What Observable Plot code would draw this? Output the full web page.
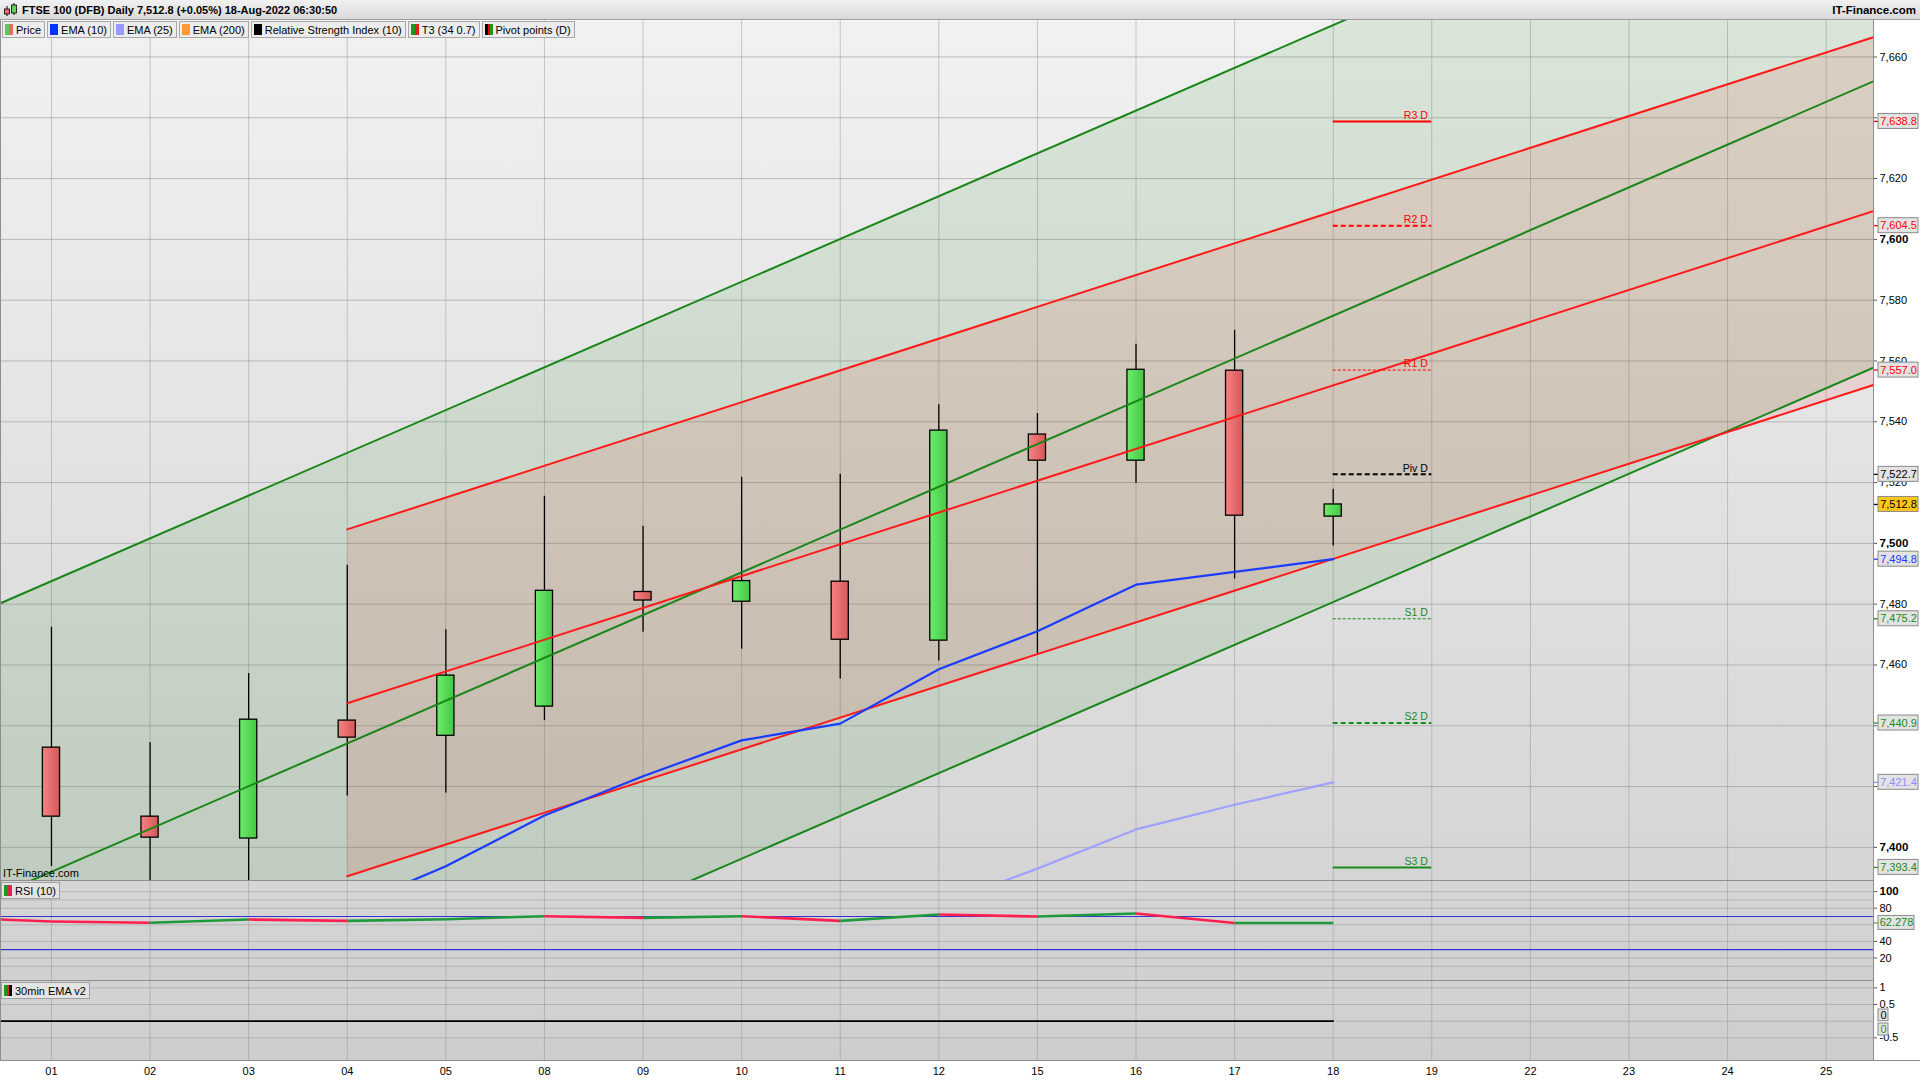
<!DOCTYPE html>
<html>
<head>
<meta charset="utf-8">
<script src="https://cdn.jsdelivr.net/npm/d3@7"></script>
<script src="https://cdn.jsdelivr.net/npm/@observablehq/plot@0.6"></script>
<style>
html,body{margin:0;padding:0;}
body{width:1920px;height:1080px;position:relative;overflow:hidden;background:#fff;font-family:"Liberation Sans",Arial,Helvetica,sans-serif;color:#000;}
.abs{position:absolute;}
#header{left:0;top:0;width:1920px;height:19px;background:linear-gradient(#f1f1f1,#dadada);border-bottom:1px solid #9c9c9c;z-index:5;}
#title{left:22px;top:0;line-height:20px;font-size:11px;font-weight:bold;}
#brand{right:4px;top:0;line-height:20px;font-size:11.5px;font-weight:bold;}
#hicon{left:3px;top:3px;width:16px;height:14px;}
#legend{left:2px;top:21px;display:flex;gap:2px;z-index:5;}
.item{display:flex;align-items:center;height:15px;border:1px solid #a8a8a8;background:#ececec;font-size:11px;padding:0 3px 0 2px;white-space:nowrap;}
.icon{display:inline-block;width:8px;height:11px;margin-right:3px;}
.panelLabel{display:flex;align-items:center;height:15px;border:1px solid #a0a0a0;background:#e4e4e4;font-size:11px;padding:0 3px 0 2px;z-index:5;}
.hline{height:1px;background:#8e8e8e;z-index:4;}
.vline{width:1px;background:#8e8e8e;z-index:4;}
#mark{left:3px;top:867px;font-size:11px;z-index:5;}
</style>
</head>
<body>
<div id="header" class="abs">
  <svg id="hicon" class="abs" viewBox="0 0 16 14">
    <line x1="4" y1="3" x2="4" y2="13" stroke="#000" stroke-width="1"/>
    <rect x="1.5" y="6" width="5" height="5" fill="#e86a6a" stroke="#000" stroke-width="0.8"/>
    <line x1="11" y1="0" x2="11" y2="12" stroke="#000" stroke-width="1"/>
    <rect x="8.5" y="2" width="5" height="8" fill="#5ad65a" stroke="#000" stroke-width="0.8"/>
  </svg>
  <div id="title" class="abs">FTSE 100 (DFB) Daily 7,512.8 (+0.05%) 18-Aug-2022 06:30:50</div>
  <div id="brand" class="abs">IT-Finance.com</div>
</div>
<div id="legend" class="abs">
  <div class="item"><span class="icon" style="background:linear-gradient(90deg,#5cc85c 50%,#e56b6b 50%)"></span>Price</div>
  <div class="item"><span class="icon" style="background:#0033ff"></span>EMA (10)</div>
  <div class="item"><span class="icon" style="background:#9999ff"></span>EMA (25)</div>
  <div class="item"><span class="icon" style="background:#ff9933"></span>EMA (200)</div>
  <div class="item"><span class="icon" style="background:#000"></span>Relative Strength Index (10)</div>
  <div class="item"><span class="icon" style="background:linear-gradient(90deg,#1a9a1a 50%,#e02020 50%)"></span>T3 (34 0.7)</div>
  <div class="item"><span class="icon" style="background:linear-gradient(90deg,#000 33%,#e00 33%,#e00 66%,#1a9a1a 66%)"></span>Pivot points (D)</div>
</div>
<div id="main" class="abs" style="left:0;top:20px;"></div>
<div id="rsi" class="abs" style="left:0;top:880px;"></div>
<div id="bot" class="abs" style="left:0;top:980px;"></div>
<div id="mark" class="abs">IT-Finance.com</div>
<div class="abs panelLabel" style="left:1px;top:882px;"><span class="icon" style="background:linear-gradient(90deg,#1a9a1a 50%,#e02050 50%)"></span>RSI (10)</div>
<div class="abs panelLabel" style="left:1px;top:982px;"><span class="icon" style="background:linear-gradient(90deg,#1a9a1a 33%,#e02020 33%,#e02020 66%,#000 66%)"></span>30min EMA v2</div>
<div class="abs hline" style="left:0;top:880px;width:1873px;"></div>
<div class="abs hline" style="left:0;top:980px;width:1873px;"></div>
<div class="abs hline" style="left:0;top:1060px;width:1920px;"></div>
<div class="abs vline" style="left:1873px;top:20px;height:1040px;"></div>
<div class="abs vline" style="left:0;top:20px;height:1040px;"></div>
<script>
// ---------- data ----------
const days   = ["01","02","03","04","05","08","09","10","11","12","15","16","17","18","19","22","23","24","25"];
const openP  = [7432.8, 7410.1, 7402.9, 7441.7, 7436.7, 7446.3, 7484.0, 7480.8, 7487.4, 7468.0, 7535.8, 7527.2, 7556.8, 7508.8];
const highP  = [7472.4, 7434.5, 7457.2, 7492.8, 7471.6, 7515.5, 7505.6, 7521.7, 7522.7, 7545.6, 7542.7, 7565.5, 7570.1, 7517.8];
const lowP   = [7393.7, 7380.0, 7380.0, 7416.9, 7417.9, 7441.7, 7470.8, 7465.2, 7455.4, 7461.3, 7463.7, 7519.8, 7488.3, 7499.1];
const closeP = [7410.1, 7403.2, 7442.0, 7436.1, 7456.5, 7484.4, 7481.2, 7487.6, 7468.3, 7537.1, 7527.2, 7557.1, 7509.1, 7512.8];
const ema10  = [null, null, null, 7380.0, 7393.8, 7410.5, 7423.4, 7435.2, 7440.7, 7458.6, 7471.1, 7486.4, 7490.6, 7494.8];
const ema25  = [null, null, null, null, null, null, null, null, null, 7381.0, 7393.0, 7405.9, 7414.0, 7421.4];
const rsiPrev = 68.6;
const rsi10  = [64.0, 62.4, 66.4, 64.8, 66.7, 70.4, 68.4, 70.4, 64.8, 72.4, 70.0, 73.6, 62.1, 62.278];
const emaV2Prev = 0;
const emaV2  = [0, 0, 0, 0, 0, 0, 0, 0, 0, 0, 0, 0, 0, 0];
const pivotNames  = ["R3 D", "R2 D", "R1 D", "Piv D", "S1 D", "S2 D", "S3 D"];
const pivotValues = [7638.8, 7604.5, 7557.0, 7522.7, 7475.2, 7440.9, 7393.4];
// trend channels: values at the anchor x positions
const greenX      = [-0.517, 18.48];
const greenUpper  = [7480.3, 7747.6];
const greenMiddle = [7384.7, 7652.0];
const greenLower  = [7290.5, 7557.8];
const redX        = [3, 18.48];
const redUpper    = [7504.6, 7666.5];
const redMiddle   = [7447.4, 7609.3];
const redLower    = [7390.5, 7552.1];
const priceTicks  = [7400, 7420, 7440, 7460, 7480, 7500, 7520, 7540, 7560, 7580, 7600, 7620, 7640, 7660];
const hiddenTicks = [7420, 7440];   // labels fully covered by value boxes in the original
const rsiTicks    = [100, 80, 40, 20];
const rsiGrid     = [100, 90, 80, 60, 40, 20, 10];
const rsiLevels   = [70, 30];
const botTicks    = [1, 0.5, -0.5];
const botGrid     = [1, 0.5, 0, -0.5];

// ---------- layout ----------
const X0 = -0.517, X1 = 18.48;
const W = 1920, MR = 47, PW = W - MR;
const u = (X1 - X0) / PW;          // x units per pixel
const lastI = closeP.length - 1;
const font = "'Liberation Sans', Arial, sans-serif";
const style = {background: "transparent", fontFamily: font, fontSize: "11px", overflow: "visible"};
const xOpt = {type: "linear", domain: [X0, X1], axis: null};
const fmtP = d3.format(",.1f");
const GREEN = "#1a861a", RED = "#ff1a1a";

function addGrad(svg, id, stops, vertical) {
  let defs = d3.select(svg).select("defs");
  if (defs.empty()) defs = d3.select(svg).insert("defs", ":first-child");
  const g = defs.append("linearGradient").attr("id", id)
    .attr("x1", 0).attr("y1", 0).attr("x2", vertical ? 0 : 1).attr("y2", vertical ? 1 : 0);
  stops.forEach(([o, c]) => g.append("stop").attr("offset", o).attr("stop-color", c));
}

const candles = closeP.map((c, i) => ({i, h: highP[i], l: lowP[i], lo: Math.min(openP[i], c), hi: Math.max(openP[i], c), up: c >= openP[i]}));
const pts = (xs, ys) => xs.map((x, k) => ({i: x, v: ys[k]}));
const seriesPts = arr => arr.map((v, i) => ({i, v})).filter(d => d.v != null);
const band = (xs, lo, hi) => xs.map((x, k) => ({i: x, lo: lo[k], hi: hi[k]}));

// ---------- main price panel ----------
const mainH = 860;
const mainY = [7389.1, 7672.0];
const mHalf = 7.5 * (mainY[1] - mainY[0]) / mainH;
const pivotColor = ["#ff0000", "#ff0000", "#ff0000", "#000000", "#1a8a1a", "#1a8a1a", "#1a8a1a"];
const pivotDash  = [null, "5,3", "3,2", "5,3", "3,2", "5,3", null];
const pivotWidth = [2, 2, 1, 2, 1, 2, 2];
const pivots = pivotValues.map((v, k) => ({v, name: pivotNames[k], color: pivotColor[k], k}));
const markers = [
  ...pivots.map(p => ({v: p.v, color: p.color, bg: "#e3e3e3"})),
  {v: closeP[lastI], color: "#000", bg: "#ffc61a"},
  {v: ema10[lastI], color: "#1a3cff", bg: "#e3e3e3"},
  {v: ema25[lastI], color: "#8c8cff", bg: "#e3e3e3"}
];

const mainMarks = [
  Plot.frame({fill: "url(#bgMain)", stroke: "none"}),
  Plot.gridY({ticks: priceTicks, stroke: "#8f8f8f", strokeOpacity: 0.55}),
  Plot.gridX({ticks: d3.range(0, days.length), stroke: "#8f8f8f", strokeOpacity: 0.45}),
  Plot.areaY(band(greenX, greenLower, greenUpper), {x: "i", y1: "lo", y2: "hi", fill: "#008000", fillOpacity: 0.1, clip: true}),
  Plot.areaY(band(redX, redLower, redUpper), {x: "i", y1: "lo", y2: "hi", fill: "#ff0000", fillOpacity: 0.09, clip: true}),
  Plot.ruleX(candles, {x: "i", y1: "l", y2: "h", stroke: "#000", strokeWidth: 1.3, clip: true}),
  Plot.rect(candles.filter(d => d.up), {x1: d => d.i - 0.087, x2: d => d.i + 0.087, y1: "lo", y2: "hi", fill: "url(#gUp)", stroke: "#000", strokeWidth: 1.3, clip: true}),
  Plot.rect(candles.filter(d => !d.up), {x1: d => d.i - 0.087, x2: d => d.i + 0.087, y1: "lo", y2: "hi", fill: "url(#gDn)", stroke: "#000", strokeWidth: 1.3, clip: true}),
  ...[greenUpper, greenMiddle, greenLower].map(ys => Plot.line(pts(greenX, ys), {x: "i", y: "v", stroke: GREEN, strokeWidth: 2, clip: true})),
  ...[redUpper, redMiddle, redLower].map(ys => Plot.line(pts(redX, ys), {x: "i", y: "v", stroke: RED, strokeWidth: 2, clip: true})),
  Plot.line(seriesPts(ema25), {x: "i", y: "v", stroke: "#a0a0ff", strokeWidth: 2.2, clip: true}),
  Plot.line(seriesPts(ema10), {x: "i", y: "v", stroke: "#1a3cff", strokeWidth: 2.2, clip: true}),
  ...pivots.map(p => Plot.ruleY([p], {y: "v", x1: () => lastI, x2: () => lastI + 1, stroke: p.color, strokeWidth: pivotWidth[p.k], strokeDasharray: pivotDash[p.k] || undefined})),
  Plot.text(pivots, {x: () => lastI + 1 - 4 * u, y: "v", text: "name", fill: "color", textAnchor: "end", dy: -6, fontSize: 10.5}),
  Plot.axisY({anchor: "right", ticks: priceTicks.filter(v => v % 100 && !hiddenTicks.includes(v)), tickFormat: d3.format(","), tickSize: 3, tickPadding: 3, fontSize: 11, label: null, stroke: "#555"}),
  Plot.axisY({anchor: "right", ticks: hiddenTicks, tickFormat: () => "", tickSize: 3, label: null, stroke: "#555"}),
  Plot.axisY({anchor: "right", ticks: priceTicks.filter(v => v % 100 === 0), tickFormat: d3.format(","), tickSize: 3, tickPadding: 3, fontSize: 11.5, fontWeight: "bold", label: null, stroke: "#555"}),
  Plot.link(markers, {x1: () => X1, x2: () => X1 + 5 * u, y1: "v", y2: "v", stroke: "color", strokeWidth: 1.3}),
  Plot.rect(markers, {x1: () => X1 + 5 * u, x2: () => X1 + 45 * u, y1: d => d.v - mHalf, y2: d => d.v + mHalf, fill: "bg", stroke: "#8a8a8a", strokeWidth: 1}),
  Plot.text(markers, {x: () => X1 + 25 * u, y: "v", text: d => fmtP(d.v), fill: "color", fontSize: 11})
];

const main = Plot.plot({
  width: W, height: mainH, marginLeft: 0, marginRight: MR, marginTop: 0, marginBottom: 0,
  x: xOpt, y: {domain: mainY, label: null}, color: {type: "identity"},
  style, marks: mainMarks
});
addGrad(main, "bgMain", [[0, "#f1f1f1"], [1, "#d5d5d5"]], true);
addGrad(main, "gUp", [[0, "#6cec6c"], [1, "#45c845"]], false);
addGrad(main, "gDn", [[0, "#f78282"], [1, "#d45858"]], false);
document.getElementById("main").appendChild(main);

// ---------- RSI panel ----------
const rsiY = [-7.1, 113.4];
const rHalf = 7 * (rsiY[1] - rsiY[0]) / 100;
const rsiPts = [{i: -1, v: rsiPrev}, ...rsi10.map((v, i) => ({i, v}))];
const rsiSegs = d3.pairs(rsiPts).map(([a, b]) => ({x1: a.i, y1: a.v, x2: b.i, y2: b.v, color: b.v >= a.v ? "#1e9a3c" : "#ff1f4f"}));
const rsiLast = [{v: rsi10[lastI]}];
const rsi = Plot.plot({
  width: W, height: 100, marginLeft: 0, marginRight: MR, marginTop: 0, marginBottom: 0,
  x: xOpt, y: {domain: rsiY, label: null}, color: {type: "identity"},
  style,
  marks: [
    Plot.frame({fill: "url(#bgRsi)", stroke: "none"}),
    Plot.gridY({ticks: rsiGrid, stroke: "#8f8f8f", strokeOpacity: 0.45}),
    Plot.gridX({ticks: d3.range(0, days.length), stroke: "#8f8f8f", strokeOpacity: 0.45}),
    Plot.ruleY(rsiLevels, {stroke: "#3535d0", strokeWidth: 1.2}),
    Plot.link(rsiSegs, {x1: "x1", y1: "y1", x2: "x2", y2: "y2", stroke: "color", strokeWidth: 2.6, clip: true}),
    Plot.axisY({anchor: "right", ticks: rsiTicks.filter(v => v !== 100), tickSize: 3, tickPadding: 3, fontSize: 11, label: null, stroke: "#555"}),
    Plot.axisY({anchor: "right", ticks: [100], tickSize: 3, tickPadding: 3, fontSize: 11.5, fontWeight: "bold", label: null, stroke: "#555"}),
    Plot.link(rsiLast, {x1: () => X1, x2: () => X1 + 5 * u, y1: "v", y2: "v", stroke: "#1a8a1a"}),
    Plot.rect(rsiLast, {x1: () => X1 + 5 * u, x2: () => X1 + 41 * u, y1: d => d.v - rHalf, y2: d => d.v + rHalf, fill: "#e3e3e3", stroke: "#8a8a8a"}),
    Plot.text(rsiLast, {x: () => X1 + 23 * u, y: "v", text: d => String(d.v), fill: "#1a8a1a", fontSize: 11})
  ]
});
addGrad(rsi, "bgRsi", [[0, "#d6d6d6"], [1, "#d0d0d0"]], true);
document.getElementById("rsi").appendChild(rsi);

// ---------- 30min EMA v2 panel ----------
const botY = [-1.18, 1.22];
const emaPts = [{i: -1, v: emaV2Prev}, ...emaV2.map((v, i) => ({i, v}))];
const botLast = emaV2[lastI];
const bot = Plot.plot({
  width: W, height: 100, marginLeft: 0, marginRight: MR, marginTop: 0, marginBottom: 20,
  x: {type: "linear", domain: [X0, X1]}, y: {domain: botY, label: null}, color: {type: "identity"},
  style,
  marks: [
    Plot.frame({fill: "url(#bgBot)", stroke: "none"}),
    Plot.gridY({ticks: botGrid, stroke: "#8f8f8f", strokeOpacity: 0.45}),
    Plot.gridX({ticks: d3.range(0, days.length), stroke: "#8f8f8f", strokeOpacity: 0.45}),
    Plot.line(emaPts, {x: "i", y: "v", stroke: "#000", strokeWidth: 1.6, clip: true}),
    Plot.axisY({anchor: "right", ticks: botTicks, tickFormat: d => String(d), tickSize: 3, tickPadding: 3, fontSize: 11, label: null, stroke: "#555"}),
    Plot.axisX({anchor: "bottom", ticks: d3.range(0, days.length), tickFormat: i => days[i], tickSize: 0, tickPadding: 7, fontSize: 11, label: null}),
    Plot.rect([{v: botLast}], {x1: () => X1 + 5 * u, x2: () => X1 + 15 * u, y1: d => d.v, y2: d => d.v + 0.35, fill: "#e3e3e3", stroke: "#8a8a8a"}),
    Plot.text([{v: botLast}], {x: () => X1 + 10 * u, y: d => d.v + 0.175, text: d => String(d.v), fill: "#000", fontSize: 11}),
    Plot.rect([{v: botLast}], {x1: () => X1 + 5 * u, x2: () => X1 + 15 * u, y1: d => d.v - 0.43, y2: d => d.v - 0.07, fill: "#e3e3e3", stroke: "#8a8a8a"}),
    Plot.text([{v: botLast}], {x: () => X1 + 10 * u, y: d => d.v - 0.25, text: d => String(d.v), fill: "#1a9a1a", fontSize: 11})
  ]
});
addGrad(bot, "bgBot", [[0, "#d3d3d3"], [1, "#cdcdcd"]], true);
document.getElementById("bot").appendChild(bot);
</script>
</body>
</html>
